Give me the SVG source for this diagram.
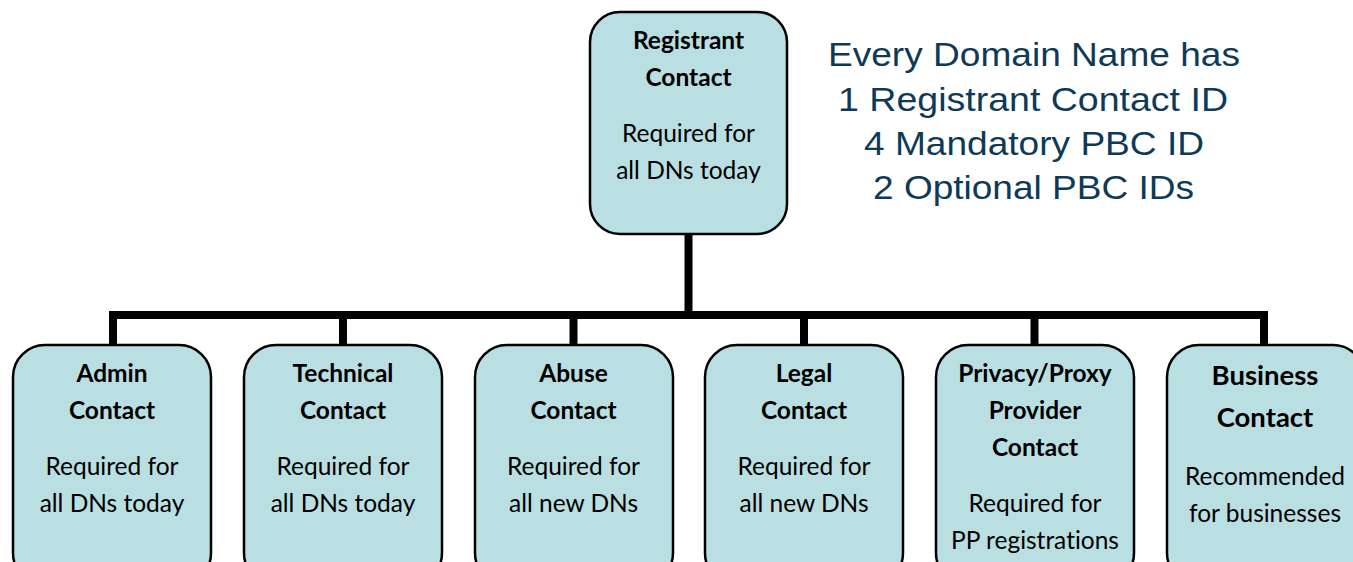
<svg xmlns="http://www.w3.org/2000/svg" width="1353" height="562" viewBox="0 0 1353 562">
<style>
.box{fill:#b9dfe2;stroke:#000;stroke-width:2.5}
.t{font-family:Lato,"Liberation Sans",sans-serif;font-size:24.5px;fill:#000;text-anchor:middle;font-variant-ligatures:none;font-feature-settings:"liga" 0}
.b{font-weight:bold}
.big{font-size:27.5px}
.note{font-family:"Liberation Sans",Arial,sans-serif;font-size:34px;fill:#0e3a57;text-anchor:middle}
.conn{fill:none;stroke:#000;stroke-width:8;stroke-linejoin:miter}
</style>
<rect width="1353" height="562" fill="#fff"/>
<g id="connectors">
<path class="conn" d="M688.5 234V315"/>
<path class="conn" d="M113 345V315H1264V345"/>
<path class="conn" d="M343 315V345M573.5 315V345M804 315V345M1034.5 315V345"/>
</g>
<g id="registrant">
<rect class="box" x="590" y="12" width="197" height="222" rx="30"/>
<text class="t b" x="688.5" y="49">Registrant</text>
<text class="t b" x="688.5" y="86">Contact</text>
<text class="t" x="688.5" y="142">Required for</text>
<text class="t" x="688.5" y="179">all DNs today</text>
</g>
<g id="admin">
<rect class="box" x="13" y="345" width="198" height="240" rx="32"/>
<text class="t b" x="112" y="382">Admin</text>
<text class="t b" x="112" y="419">Contact</text>
<text class="t" x="112" y="475">Required for</text>
<text class="t" x="112" y="512">all DNs today</text>
</g>
<g id="technical">
<rect class="box" x="244" y="345" width="198" height="240" rx="32"/>
<text class="t b" x="343" y="382">Technical</text>
<text class="t b" x="343" y="419">Contact</text>
<text class="t" x="343" y="475">Required for</text>
<text class="t" x="343" y="512">all DNs today</text>
</g>
<g id="abuse">
<rect class="box" x="475" y="345" width="198" height="240" rx="32"/>
<text class="t b" x="573.5" y="382">Abuse</text>
<text class="t b" x="573.5" y="419">Contact</text>
<text class="t" x="573.5" y="475">Required for</text>
<text class="t" x="573.5" y="512">all new DNs</text>
</g>
<g id="legal">
<rect class="box" x="705" y="345" width="198" height="240" rx="32"/>
<text class="t b" x="804" y="382">Legal</text>
<text class="t b" x="804" y="419">Contact</text>
<text class="t" x="804" y="475">Required for</text>
<text class="t" x="804" y="512">all new DNs</text>
</g>
<g id="privacy-proxy">
<rect class="box" x="936" y="345" width="198" height="240" rx="32"/>
<text class="t b" x="1035" y="382">Privacy/Proxy</text>
<text class="t b" x="1035" y="419">Provider</text>
<text class="t b" x="1035" y="456">Contact</text>
<text class="t" x="1035" y="512">Required for</text>
<text class="t" x="1035" y="549">PP registrations</text>
</g>
<g id="business">
<rect class="box" x="1167" y="345" width="198" height="240" rx="32"/>
<text class="t b big" x="1265" y="385">Business</text>
<text class="t b big" x="1265" y="427">Contact</text>
<text class="t" x="1265" y="485">Recommended</text>
<text class="t" x="1265" y="522">for businesses</text>
</g>
<g id="note">
<text class="note" x="1034" y="66" textLength="412" lengthAdjust="spacingAndGlyphs">Every Domain Name has</text>
<text class="note" x="1033" y="111" textLength="390" lengthAdjust="spacingAndGlyphs">1 Registrant Contact ID</text>
<text class="note" x="1034" y="155" textLength="340" lengthAdjust="spacingAndGlyphs">4 Mandatory PBC ID</text>
<text class="note" x="1033.5" y="199" textLength="321" lengthAdjust="spacingAndGlyphs">2 Optional PBC IDs</text>
</g>
</svg>
